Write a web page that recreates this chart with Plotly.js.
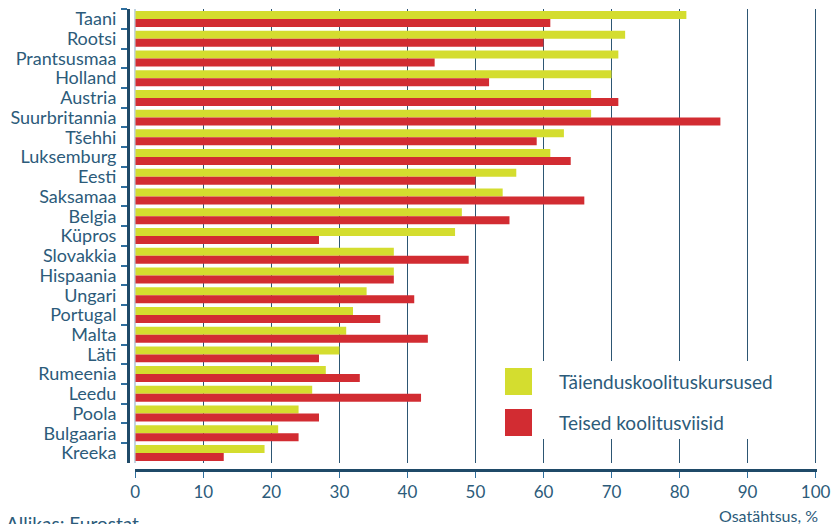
<!DOCTYPE html>
<html>
<head>
<meta charset="utf-8">
<script src="https://cdn.plot.ly/plotly-3.0.1.min.js"></script>
<style>
  html, body { margin: 0; padding: 0; background: #fff; }
  #chart { width: 831px; height: 524px; }
</style>
</head>
<body>
<div id="chart"></div>
<script>
// Countries, top to bottom
const countries = [
  'Taani', 'Rootsi', 'Prantsusmaa', 'Holland', 'Austria', 'Suurbritannia',
  'Tšehhi', 'Luksemburg', 'Eesti', 'Saksamaa', 'Belgia', 'Küpros',
  'Slovakkia', 'Hispaania', 'Ungari', 'Portugal', 'Malta', 'Läti',
  'Rumeenia', 'Leedu', 'Poola', 'Bulgaaria', 'Kreeka'
];

// Share of training hours, %
const seriesNames = ['Täienduskoolituskursused', 'Teised koolitusviisid'];
const courses = [81, 72, 71, 70, 67, 67, 63, 61, 56, 54, 48, 47, 38, 38, 34, 32, 31, 30, 28, 26, 24, 21, 19];
const otherForms = [61, 60, 44, 52, 71, 86, 59, 64, 50, 66, 55, 27, 49, 38, 41, 36, 43, 27, 33, 42, 27, 24, 13];

const xTicks = [0, 10, 20, 30, 40, 50, 60, 70, 80, 90, 100];

const yellow = '#d4dd2f';
const red = '#d22c32';
const ink = '#2c5b7a';
const navy = '#1f4a68';
const tickBlue = '#2f6f9f';

// Page geometry helpers (pixel -> paper fractions)
const W = 831, H = 524;
const M = { l: 128, r: 14, t: 8, b: 54 };
const PW = W - M.l - M.r, PH = H - M.t - M.b;
const px = v => (v - M.l) / PW;
const py = v => (H - M.b - v) / PH;

const traces = [
  { type: 'bar', orientation: 'h', name: seriesNames[0], y: countries, x: courses,
    marker: { color: yellow }, hoverinfo: 'x+y', showlegend: false },
  { type: 'bar', orientation: 'h', name: seriesNames[1], y: countries, x: otherForms,
    marker: { color: red }, hoverinfo: 'x+y', showlegend: false }
];

const font = 'Lato, "Open Sans", sans-serif';

const layout = {
  width: W, height: H,
  margin: M,
  paper_bgcolor: '#fff', plot_bgcolor: '#fff',
  barmode: 'group', bargap: 0.19, bargroupgap: 0,
  font: { family: font, color: ink },
  xaxis: {
    domain: [px(135.3), 1],
    range: [0, 100.2],
    tickvals: xTicks,
    ticktext: xTicks.map(String),
    anchor: 'free', position: 0,
    showgrid: true, gridcolor: '#2d5673', gridwidth: 1.3,
    zeroline: true, zerolinecolor: '#c3d4e0', zerolinewidth: 2,
    showline: true, linecolor: navy, linewidth: 2.5,
    ticks: 'outside', ticklen: 6, tickwidth: 1.5, tickcolor: tickBlue,
    tickfont: { family: font, size: 17, color: ink },
    fixedrange: true
  },
  yaxis: {
    domain: [py(462.9), py(9.1)],
    type: 'category',
    categoryorder: 'array', categoryarray: countries,
    autorange: 'reversed',
    tickmode: 'linear', dtick: 1,
    anchor: 'free', position: 0,
    showgrid: false, zeroline: false,
    showline: true, linecolor: navy, linewidth: 2.5,
    ticks: 'outside', tickson: 'boundaries', ticklen: 6, tickwidth: 2, tickcolor: tickBlue,
    ticklabelstandoff: 7,
    tickfont: { family: font, size: 18, color: ink },
    fixedrange: true
  },
  shapes: [
    // legend panel
    { type: 'rect', xref: 'paper', yref: 'paper', layer: 'above',
      x0: px(490), x1: px(806), y0: py(439), y1: py(361),
      fillcolor: '#fff', line: { width: 0 } },
    { type: 'rect', xref: 'paper', yref: 'paper', layer: 'above',
      x0: px(505), x1: px(532), y0: py(395), y1: py(368),
      fillcolor: yellow, line: { width: 0 } },
    { type: 'rect', xref: 'paper', yref: 'paper', layer: 'above',
      x0: px(505), x1: px(532), y0: py(436), y1: py(409),
      fillcolor: red, line: { width: 0 } }
  ],
  annotations: [
    { xref: 'paper', yref: 'paper', x: px(557), y: py(381.5), xanchor: 'left', yanchor: 'middle',
      text: seriesNames[0], showarrow: false, font: { family: font, size: 19, color: ink } },
    { xref: 'paper', yref: 'paper', x: px(557), y: py(422.5), xanchor: 'left', yanchor: 'middle',
      text: seriesNames[1], showarrow: false, font: { family: font, size: 19, color: ink } },
    { xref: 'paper', yref: 'paper', x: px(820), y: py(515), xanchor: 'right', yanchor: 'middle',
      text: 'Osatähtsus, %', showarrow: false, font: { family: font, size: 16, color: ink } },
    { xref: 'paper', yref: 'paper', x: px(4), y: py(510), xanchor: 'left', yanchor: 'top',
      text: 'Allikas: Eurostat', showarrow: false, font: { family: font, size: 19, color: ink } }
  ]
};

Plotly.newPlot('chart', traces, layout, { displayModeBar: false, staticPlot: true });
</script>
</body>
</html>
